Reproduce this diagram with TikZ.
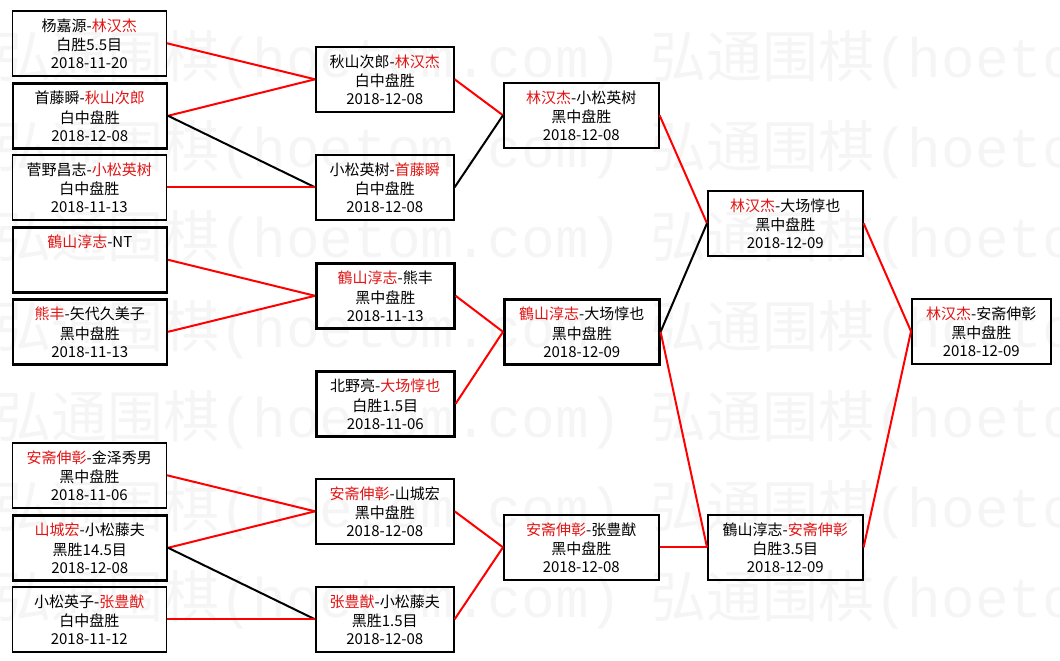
\documentclass[tikz,border=0pt]{standalone}
\usepackage{fontspec}
\setmainfont{Noto Sans CJK SC}
\newfontfamily\wmmono{Liberation Mono}
\usetikzlibrary{calc}
\definecolor{wred}{RGB}{225,20,20}
\definecolor{wmgray}{RGB}{245,245,245}
\newcommand\R[1]{\textcolor{wred}{#1}}
\tikzset{
  thinbox/.style={draw=black, line width=1.6pt, rectangle, inner sep=0pt, minimum height=65pt},
  thickbox/.style={draw=black, line width=2.6pt, rectangle, inner sep=0pt, minimum height=65pt},
  txt/.style={anchor=base, inner sep=0pt, font=\fontsize{15pt}{18pt}\selectfont},
  win/.style={draw=red, line width=2pt},
  lose/.style={draw=black, line width=2pt},
  wmark/.style={anchor=west, inner sep=0pt, text=wmgray, font=\fontsize{56pt}{56pt}\selectfont}
}
\newcommand\game[8]{%
  \node[#5, minimum width=#4pt, anchor=north west] (#1) at (#2,#3) {};
  \node[txt] (#1-l1) at ($(#1.center)+(0,-12)$) {#6};
  \node[txt] (#1-l2) at ($(#1.center)+(0,7.5)$) {#7};
  \node[txt] (#1-l3) at ($(#1.center)+(0,25.5)$) {#8};
}
\begin{document}
\begin{tikzpicture}[x=1pt,y=-1pt]
\useasboundingbox (0,0) rectangle (1060,661);
% watermark
\foreach \i/\yy in {1/60,2/150,3/240,4/330,5/420,6/510,7/600}{
  \node[wmark] (wm\i a) at (-5,\yy) {弘通围棋{\wmmono(hoetom.com)}};
  \node[wmark] (wm\i b) at (650,\yy) {弘通围棋{\wmmono(hoetom.com)}};
}
% column 1
\game{a1}{11.5}{10}{154}{thinbox}{杨嘉源-\R{林汉杰}}{白胜5.5目}{2018-11-20}
\game{a2}{11.5}{82}{154}{thickbox}{首藤瞬-\R{秋山次郎}}{白中盘胜}{2018-12-08}
\game{a3}{11.5}{154}{154}{thinbox}{菅野昌志-\R{小松英树}}{白中盘胜}{2018-11-13}
\game{a4}{11.5}{226}{154}{thickbox}{\R{鶴山淳志}-NT}{}{}
\game{a5}{11.5}{298}{154}{thickbox}{\R{熊丰}-矢代久美子}{黑中盘胜}{2018-11-13}
\game{a6}{11.5}{442}{154}{thinbox}{\R{安斋伸彰}-金泽秀男}{黑中盘胜}{2018-11-06}
\game{a7}{11.5}{514}{154}{thickbox}{\R{山城宏}-小松藤夫}{黑胜14.5目}{2018-12-08}
\game{a8}{11.5}{586}{154}{thinbox}{小松英子-\R{张豊猷}}{白中盘胜}{2018-11-12}
% column 2
\game{b1}{315}{46}{138}{thinbox}{秋山次郎-\R{林汉杰}}{白中盘胜}{2018-12-08}
\game{b2}{315}{154}{138}{thinbox}{小松英树-\R{首藤瞬}}{白中盘胜}{2018-12-08}
\game{b3}{315}{262}{138}{thickbox}{\R{鶴山淳志}-熊丰}{黑中盘胜}{2018-11-13}
\game{b4}{315}{370}{138}{thickbox}{北野亮-\R{大场惇也}}{白胜1.5目}{2018-11-06}
\game{b5}{315}{478}{138}{thinbox}{\R{安斋伸彰}-山城宏}{黑中盘胜}{2018-12-08}
\game{b6}{315}{586}{138}{thinbox}{\R{张豊猷}-小松藤夫}{黑胜1.5目}{2018-12-08}
% column 3
\game{c1}{503}{82}{155}{thinbox}{\R{林汉杰}-小松英树}{黑中盘胜}{2018-12-08}
\game{c2}{503}{298}{155}{thickbox}{\R{鶴山淳志}-大场惇也}{黑中盘胜}{2018-12-09}
\game{c3}{503}{514}{155}{thinbox}{\R{安斋伸彰}-张豊猷}{黑中盘胜}{2018-12-08}
% column 4
\game{d1}{707}{190}{155}{thinbox}{\R{林汉杰}-大场惇也}{黑中盘胜}{2018-12-09}
\game{d2}{707}{514}{155}{thinbox}{鶴山淳志-\R{安斋伸彰}}{白胜3.5目}{2018-12-09}
% column 5
\game{e1}{911}{298}{139}{thinbox}{\R{林汉杰}-安斋伸彰}{黑中盘胜}{2018-12-09}
% connectors
\draw[win]  (a1.east) -- (b1.west);
\draw[win]  (a2.east) -- (b1.west);
\draw[lose] (a2.east) -- (b2.west);
\draw[win]  (a3.east) -- (b2.west);
\draw[win]  (a4.east) -- (b3.west);
\draw[win]  (a5.east) -- (b3.west);
\draw[win]  (a6.east) -- (b5.west);
\draw[win]  (a7.east) -- (b5.west);
\draw[lose] (a7.east) -- (b6.west);
\draw[win]  (a8.east) -- (b6.west);
\draw[win]  (b1.east) -- (c1.west);
\draw[lose] (b2.east) -- (c1.west);
\draw[win]  (b3.east) -- (c2.west);
\draw[win]  (b4.east) -- (c2.west);
\draw[win]  (b5.east) -- (c3.west);
\draw[win]  (b6.east) -- (c3.west);
\draw[win]  (c1.east) -- (d1.west);
\draw[lose] (c2.east) -- (d1.west);
\draw[win]  (c2.east) -- (d2.west);
\draw[win]  (c3.east) -- (d2.west);
\draw[win]  (d1.east) -- (e1.west);
\draw[win]  (d2.east) -- (e1.west);
\end{tikzpicture}
\end{document}
